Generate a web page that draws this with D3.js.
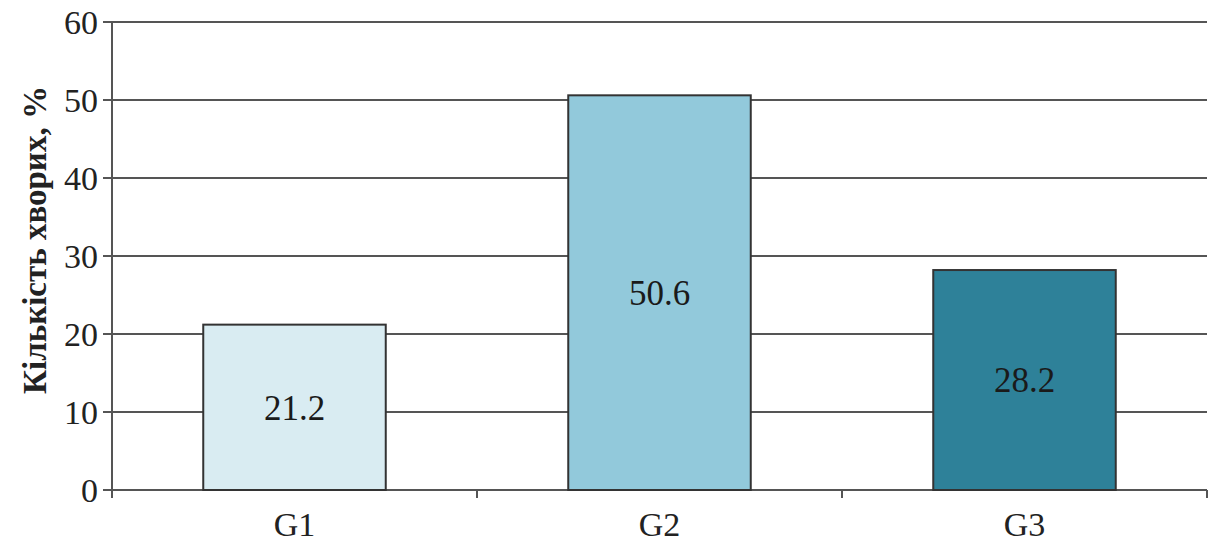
<!DOCTYPE html>
<html><head><meta charset="utf-8">
<script src="https://cdn.jsdelivr.net/npm/d3@7"></script>
<style>body{margin:0;background:#fff}svg{display:block}text{font-family:"Liberation Serif","Times New Roman",serif}</style>
</head><body><svg id="c" width="1220" height="548"></svg>
<script>
const categories = ["G1","G2","G3"];
const values = [21.2, 50.6, 28.2];
const colors = ["#d9ecf2","#92c9db","#2e8199"];
const yTicks = [0,10,20,30,40,50,60];
const yTitle = "Кількість хворих, %";

const svg = d3.select("#c");
const L=112, R=1207, T=22, B=490;
const x = d3.scaleBand().domain(categories).range([L,R]).paddingInner(0.5).paddingOuter(0.25);
const y = d3.scaleLinear().domain([0,60]).range([B,T]);

// gridlines
svg.append("g").selectAll("line").data(yTicks).join("line")
  .attr("x1",L-9).attr("x2",R).attr("y1",d=>y(d)).attr("y2",d=>y(d))
  .attr("stroke","#555").attr("stroke-width",2);

// y axis line
svg.append("line").attr("x1",L).attr("x2",L).attr("y1",T).attr("y2",B+8).attr("stroke","#555").attr("stroke-width",2);
// x tick marks at band boundaries
const bounds = [L, L+x.step(), L+2*x.step(), R];
svg.append("g").selectAll("line").data(bounds).join("line")
  .attr("x1",d=>d).attr("x2",d=>d).attr("y1",B).attr("y2",B+8).attr("stroke","#555").attr("stroke-width",2);

// y tick labels
svg.append("g").selectAll("text").data(yTicks).join("text")
  .attr("x",L-14).attr("y",d=>y(d)).attr("dy","0.35em").attr("text-anchor","end")
  .attr("font-size",34).attr("fill","#222").text(d=>d);

// bars
svg.append("g").selectAll("rect").data(values).join("rect")
  .attr("x",(d,i)=>x(categories[i])).attr("width",x.bandwidth())
  .attr("y",d=>y(d)).attr("height",d=>B-y(d))
  .attr("fill",(d,i)=>colors[i]).attr("stroke","#333").attr("stroke-width",2);

// value labels
svg.append("g").selectAll("text").data(values).join("text")
  .attr("x",(d,i)=>x(categories[i])+x.bandwidth()/2).attr("y",d=>(y(d)+B)/2)
  .attr("dy","0.35em").attr("text-anchor","middle").attr("font-size",35).attr("fill","#1a1a1a")
  .text(d=>d.toFixed(1));

// x labels
svg.append("g").selectAll("text").data(categories).join("text")
  .attr("x",d=>x(d)+x.bandwidth()/2).attr("y",536).attr("text-anchor","middle")
  .attr("font-size",34).attr("fill","#222").text(d=>d);

// y title
svg.append("text").attr("transform","translate(46,240) rotate(-90)").attr("text-anchor","middle")
  .attr("font-size",33).attr("font-weight","bold").attr("fill","#222").text(yTitle);
</script></body></html>
